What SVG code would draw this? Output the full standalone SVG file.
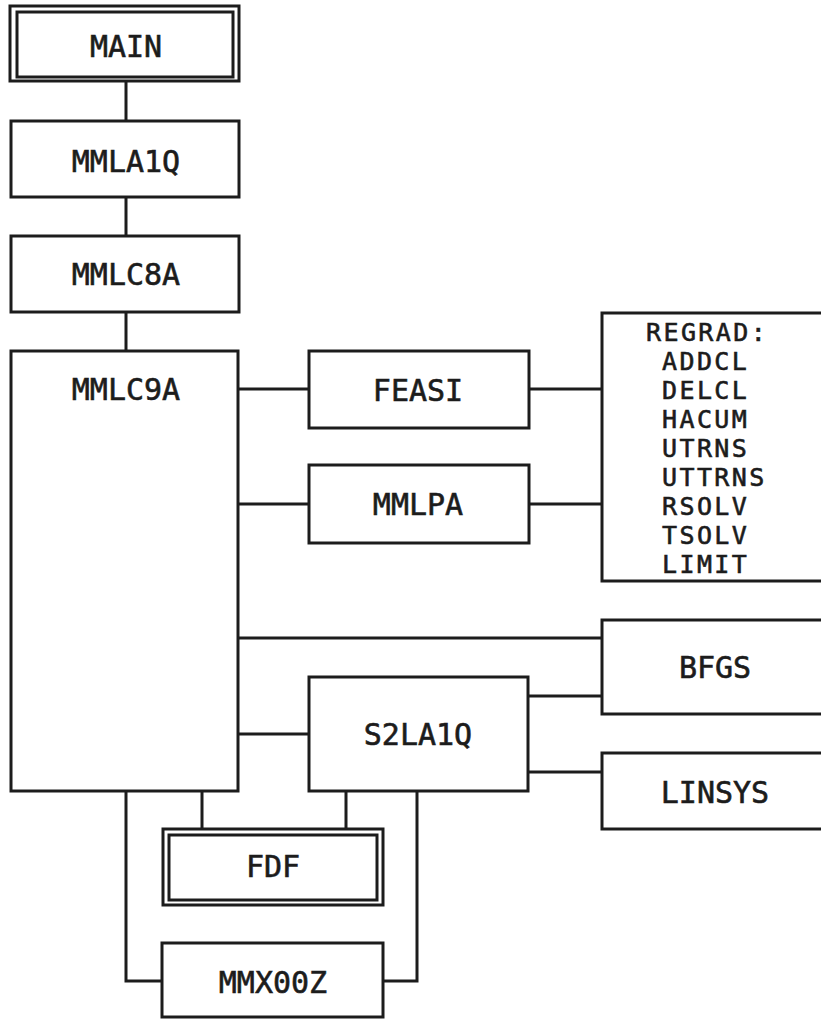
<svg xmlns="http://www.w3.org/2000/svg" width="821" height="1019" viewBox="0 0 821 1019">
<style>
.box{fill:#fff;stroke:#1c1c1c;stroke-width:3}
.wire{fill:none;stroke:#1c1c1c;stroke-width:3}
.lbl{font-family:"DejaVu Sans Mono","Liberation Mono",monospace;font-size:30px;fill:#1c1c1c;stroke:#1c1c1c;stroke-width:0.6;text-anchor:middle}
.lst{font-family:"DejaVu Sans Mono","Liberation Mono",monospace;font-size:25px;letter-spacing:2.4px;fill:#1c1c1c;stroke:#1c1c1c;stroke-width:0.6;text-anchor:start}
</style>
<rect width="821" height="1019" fill="#fff"/>
<g id="connectors">
<path class="wire" d="M126 81V121M126 197V236M126 312V351"/>
<path class="wire" d="M238 389H309M529 389H602"/>
<path class="wire" d="M238 504H309M529 504H602"/>
<path class="wire" d="M238 638H602"/>
<path class="wire" d="M238 734H309"/>
<path class="wire" d="M528 696H602M528 772H602"/>
<path class="wire" d="M202 791V829M346 791V829"/>
<path class="wire" d="M126 791V981H162"/>
<path class="wire" d="M417 791V981H383"/>
</g>
<g id="MAIN">
<rect class="box" x="10" y="6" width="229" height="75"/>
<rect class="box" x="17" y="12" width="216" height="65"/>
<text class="lbl" x="126" y="57">MAIN</text>
</g>
<g id="MMLA1Q">
<rect class="box" x="11" y="121" width="228" height="76"/>
<text class="lbl" x="126" y="172">MMLA1Q</text>
</g>
<g id="MMLC8A">
<rect class="box" x="11" y="236" width="228" height="76"/>
<text class="lbl" x="126" y="285">MMLC8A</text>
</g>
<g id="MMLC9A">
<rect class="box" x="11" y="351" width="227" height="440"/>
<text class="lbl" x="126" y="400">MMLC9A</text>
</g>
<g id="FEASI">
<rect class="box" x="309" y="351" width="220" height="77"/>
<text class="lbl" x="418" y="401">FEASI</text>
</g>
<g id="MMLPA">
<rect class="box" x="309" y="465" width="220" height="78"/>
<text class="lbl" x="418" y="515">MMLPA</text>
</g>
<g id="REGRAD">
<rect class="box" x="602" y="313" width="240" height="268"/>
<text class="lst" x="646" y="341">REGRAD:</text>
<text class="lst" x="662" y="370">ADDCL</text>
<text class="lst" x="662" y="399">DELCL</text>
<text class="lst" x="662" y="428">HACUM</text>
<text class="lst" x="662" y="457">UTRNS</text>
<text class="lst" x="662" y="486">UTTRNS</text>
<text class="lst" x="662" y="515">RSOLV</text>
<text class="lst" x="662" y="544">TSOLV</text>
<text class="lst" x="662" y="573">LIMIT</text>
</g>
<g id="BFGS">
<rect class="box" x="602" y="620" width="240" height="94"/>
<text class="lbl" x="715" y="678">BFGS</text>
</g>
<g id="S2LA1Q">
<rect class="box" x="309" y="677" width="219" height="114"/>
<text class="lbl" x="418" y="745">S2LA1Q</text>
</g>
<g id="LINSYS">
<rect class="box" x="602" y="753" width="240" height="76"/>
<text class="lbl" x="715" y="803">LINSYS</text>
</g>
<g id="FDF">
<rect class="box" x="163" y="829" width="220" height="76"/>
<rect class="box" x="169" y="835" width="208" height="65"/>
<text class="lbl" x="273" y="877">FDF</text>
</g>
<g id="MMX00Z">
<rect class="box" x="162" y="943" width="221" height="74"/>
<text class="lbl" x="273" y="993">MMX00Z</text>
</g>
</svg>
